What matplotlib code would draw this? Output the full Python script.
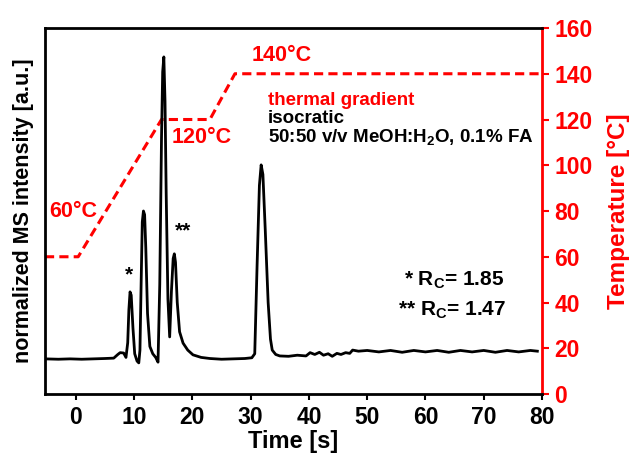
import matplotlib
matplotlib.use('Agg')
import matplotlib.pyplot as plt

plt.rcParams['font.family'] = ['Liberation Sans', 'DejaVu Sans']
plt.rcParams['font.weight'] = 'bold'
plt.rcParams['mathtext.fontset'] = 'custom'
plt.rcParams['mathtext.rm'] = 'Liberation Sans:bold'
plt.rcParams['mathtext.bf'] = 'Liberation Sans:bold'

# chromatogram (time [s], normalized intensity)
time = [-5.3, -3, -1, 1, 3, 5, 6.5, 7.2, 7.6, 8.2,
        8.6, 8.9, 9.1, 9.3, 9.5, 9.8, 10.1, 10.5, 10.8, 11.0,
        11.2, 11.4, 11.6, 11.8, 12.0, 12.3, 12.7, 13.2, 13.7, 14.1,
        14.4, 14.7, 14.9, 15.1, 15.3, 15.5, 15.8, 16.1, 16.4, 16.7,
        16.9, 17.1, 17.4, 17.8, 18.4, 19.2, 20.1, 21.5, 23, 25,
        27, 29, 30.2, 30.7, 31.1, 31.5, 31.8, 32.1, 32.5, 33.0,
        33.4, 33.7, 34.3, 35, 36.5, 38, 39.5, 40.2, 41, 41.8,
        42.5, 43.3, 44, 44.8, 45.5, 46.3, 47, 47.5, 48.5, 50,
        52, 54, 56, 58, 60, 62, 64, 66, 68, 70,
        72, 74, 76, 78, 79.2]
intensity = [0.096, 0.095, 0.096, 0.095, 0.096, 0.097, 0.098, 0.108, 0.113, 0.112,
             0.100, 0.140, 0.230, 0.279, 0.270, 0.180, 0.110, 0.090, 0.085, 0.120,
             0.300, 0.470, 0.500, 0.490, 0.400, 0.220, 0.130, 0.110, 0.100, 0.087,
             0.300, 0.700, 0.880, 0.921, 0.800, 0.550, 0.260, 0.156, 0.280, 0.370,
             0.383, 0.360, 0.250, 0.170, 0.139, 0.120, 0.107, 0.100, 0.097, 0.095,
             0.096, 0.097, 0.099, 0.110, 0.350, 0.570, 0.626, 0.600, 0.450, 0.250,
             0.150, 0.120, 0.108, 0.104, 0.103, 0.106, 0.104, 0.113, 0.108, 0.114,
             0.106, 0.110, 0.103, 0.111, 0.108, 0.113, 0.111, 0.120, 0.117, 0.119,
             0.115, 0.119, 0.114, 0.119, 0.115, 0.119, 0.114, 0.119, 0.115, 0.119,
             0.114, 0.119, 0.115, 0.119, 0.117]

# temperature programme
temp_t = [-5.3, 0.4, 14.7, 23, 27.3, 80]
temp_T = [60, 60, 120, 120, 140, 140]

red = '#ff0000'

fig = plt.figure(figsize=(6.29, 4.59), dpi=100)
ax = fig.add_axes([0.0715, 0.1416, 0.7902, 0.7974])
ax2 = ax.twinx()

ax.plot(time, intensity, color='black', lw=2.0, zorder=3)
ax.set_xlim(-5.3, 80)
ax.set_ylim(0, 1)
ax.set_yticks([])
ax.set_xticks(range(0, 81, 10))
ax.tick_params(axis='x', direction='out', length=4.5, width=1.5, labelsize=16.5, pad=4)
for s in ['left', 'top', 'bottom']:
    ax.spines[s].set_linewidth(2)
ax.spines['right'].set_visible(False)
ax.set_xlabel('Time [s]', fontsize=17, fontweight='bold', labelpad=1)
ax.set_ylabel('normalized MS intensity [a.u.]', fontsize=15.5, fontweight='bold', labelpad=8)

ax2.plot(temp_t, temp_T, color=red, lw=2.2, ls=(0, (3, 1.7)), zorder=2)
ax2.set_ylim(0, 160)
ax2.set_yticks(range(0, 161, 20))
ax2.tick_params(axis='y', colors=red, direction='out', length=5, width=1.5, labelsize=16.5, pad=4)
ax2.spines['right'].set_color(red)
ax2.spines['right'].set_linewidth(2)
for s in ['left', 'top', 'bottom']:
    ax2.spines[s].set_visible(False)
ax2.set_ylabel('Temperature [°C]', color=red, fontsize=17.5, fontweight='bold', labelpad=10)
ax.set_zorder(ax2.get_zorder() + 1)
ax.patch.set_visible(False)

# annotations
ax2.text(-4.6, 80, '60°C', color=red, fontsize=15.5, va='center', ha='left')
ax2.text(16.5, 112, '120°C', color=red, fontsize=15.5, va='center', ha='left')
ax2.text(30.2, 148, '140°C', color=red, fontsize=15.5, va='center', ha='left')
ax2.text(33, 128.5, 'thermal gradient', color=red, fontsize=13.5, va='center', ha='left')
ax2.text(33, 120.4, 'isocratic', color='black', fontsize=13.5, va='center', ha='left')
ax2.text(33, 112, '50:50 v/v MeOH:H$_2$O, 0.1% FA', color='black', fontsize=13.5,
         va='center', ha='left')

ax.text(9.2, 0.30, '*', fontsize=15, ha='center', va='bottom')
ax.text(18.4, 0.42, '**', fontsize=15, ha='center', va='bottom')
ax.text(73.6, 0.311, '* R$_\\mathrm{C}$= 1.85', fontsize=15, ha='right', va='center')
ax.text(73.9, 0.23, '** R$_\\mathrm{C}$= 1.47', fontsize=15, ha='right', va='center')

fig.savefig('out.png', dpi=100)
